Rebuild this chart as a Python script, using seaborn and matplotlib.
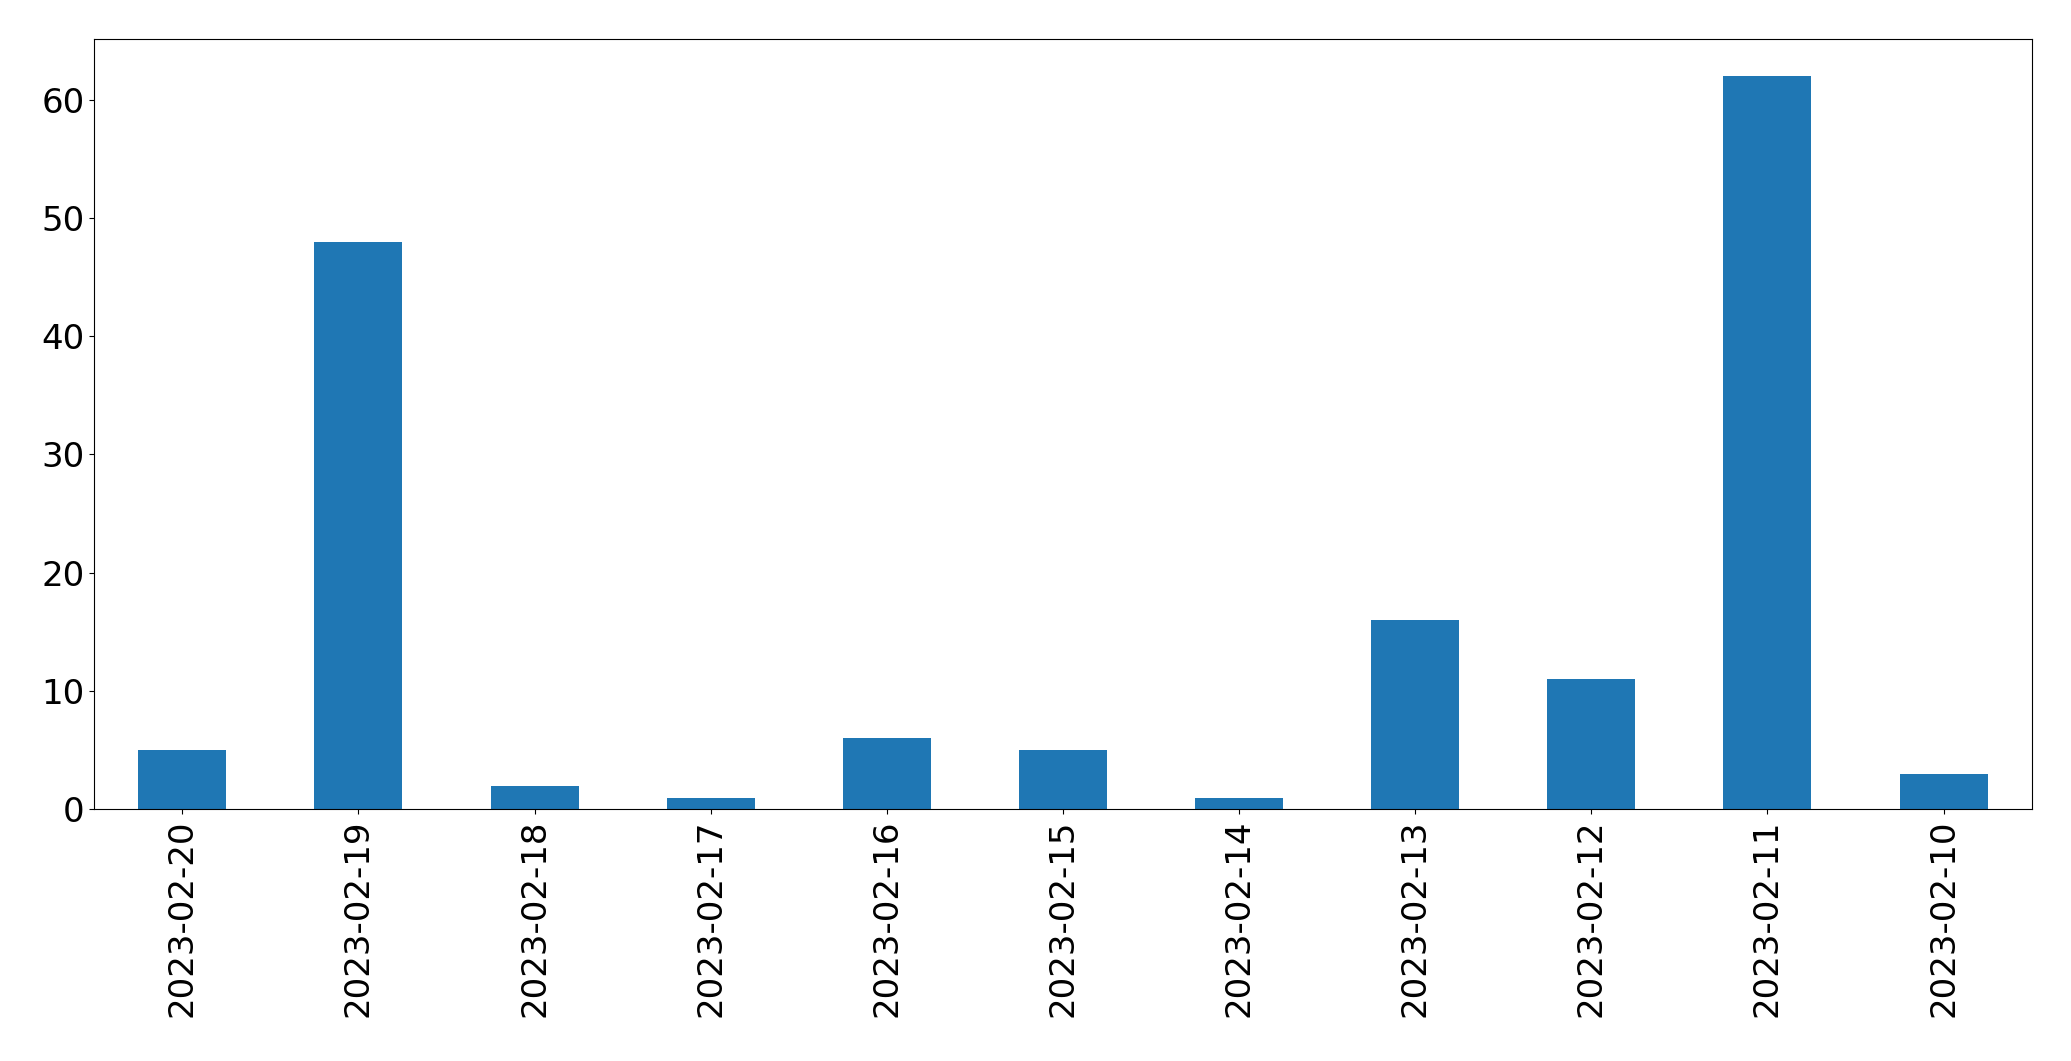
import pandas as pd
import seaborn as sns
import matplotlib.pyplot as plt

dates = ['2023-02-20', '2023-02-19', '2023-02-18', '2023-02-17', '2023-02-16',
         '2023-02-15', '2023-02-14', '2023-02-13', '2023-02-12', '2023-02-11',
         '2023-02-10']
counts = [5, 48, 2, 1, 6, 5, 1, 16, 11, 62, 3]


def plot_counts(df):
    fig = plt.figure(figsize=(20.71, 10.61), dpi=100)
    ax = fig.add_axes([0.0455, 0.2372, 0.9355, 0.7258])
    sns.barplot(x='date', y='count', data=df, order=dates, color='#1f77b4',
                saturation=1, width=0.5, linewidth=0, ax=ax)
    ax.set_xlabel('')
    ax.set_ylabel('')
    ax.tick_params(axis='both', labelsize=24.5)
    ax.tick_params(axis='x', labelrotation=90)
    ax.set_xlim(-0.5, len(dates) - 0.5)
    ax.set_ylim(0, max(counts) * 1.05)
    fig.savefig('out.png', dpi=100)


def main():
    df = pd.DataFrame({'date': dates, 'count': counts})
    plot_counts(df)


if __name__ == "__main__":
    main()
